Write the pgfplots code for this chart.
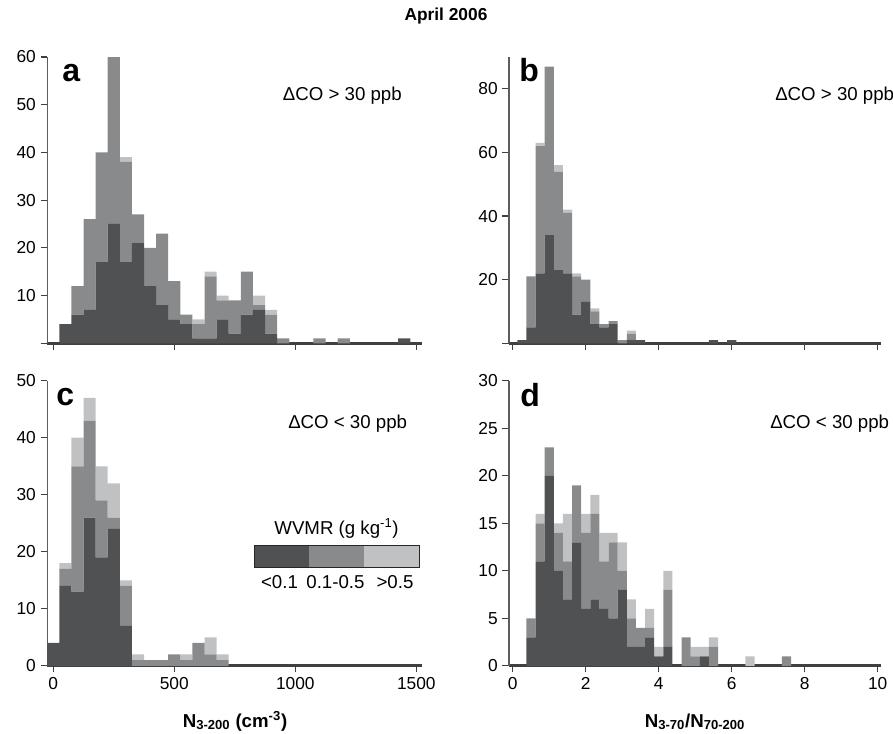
\documentclass[border=0pt]{standalone}
\usepackage{fontspec}
\setmainfont{Liberation Sans}
\usepackage{pgfplots}
\usepackage{pgfplotstable}
\pgfplotsset{compat=1.18}
\definecolor{cdark}{HTML}{505153}
\definecolor{cmid}{HTML}{898A8C}
\definecolor{clight}{HTML}{BFC1C3}
\definecolor{axgray}{HTML}{404040}

\pgfplotstableread{
x d m l
50 4 0 0
100 6 6 0
150 7 19 0
200 17 23 0
250 25 35 0
300 17 21 1
350 21 6 0
400 12 8 0
450 8 15 0
500 5 8 0
550 4 2 0
600 1 3 1
650 1 13 1
700 5 4 1
750 2 7 0
800 6 9 0
850 7 1 2
900 2 4 1
950 0 1 0
1100 0 1 0
1200 0 1 0
1450 1 0 0
}\tabA

\pgfplotstableread{
x d m l
0.25 1 0 0
0.5 5 16 0
0.75 22 40 1
1.0 34 53 0
1.25 23 31 2
1.5 22 19 1
1.75 9 12 1
2.0 13 7 0
2.25 6 4 1
2.5 5 1 0
2.75 6 1 0
3.0 0 1 0
3.25 1 2 1
3.5 1 0 0
5.5 1 0 0
6.0 1 0 0
}\tabB

\pgfplotstableread{
x d m l
0 4 0 0
50 14 3 1
100 13 22 5
150 26 17 4
200 19 10 6
250 24 2 6
300 7 7 1
350 0 1 1
400 0 1 0
450 0 1 0
500 0 2 0
550 0 1 1
600 0 4 0
650 0 2 3
700 0 1 1
}\tabC

\pgfplotstableread{
x d m l
0.5 3 2 0
0.75 11 4 1
1.0 20 3 0
1.25 10 4 1
1.5 7 4 5
1.75 13 6 0
2.0 6 8 2
2.25 7 9 2
2.5 6 5 3
2.75 5 8 1
3.0 8 2 3
3.25 2 3 2
3.5 2 2 0
3.75 3 1 2
4.0 1 0 1
4.25 2 6 2
4.75 0 3 0
5.0 0 1 1
5.25 1 0 1
5.5 0 2 1
6.5 0 0 1
7.5 0 1 0
}\tabD

\pgfplotsset{hist/.style={
  scale only axis, axis lines*=left, ymin=0,
  tick align=outside, major tick length=5pt,
  x axis line style={line width=2.2pt, color=axgray},
  y axis line style={line width=1pt, color=axgray!85},
  tick style={line width=0.9pt, color=axgray},
  ybar stacked, bar shift=0pt,
  ticklabel style={font=\fontsize{13}{15}\selectfont},
  /pgf/number format/assume math mode=true,
  /pgf/number format/1000 sep={},
  every axis plot/.append style={draw=none},
  clip=false,
}}

\begin{document}
\begin{tikzpicture}
\path[use as bounding box] (0,0) rectangle (669.75pt,549.75pt);

% panel a
\begin{axis}[hist, at={(35.4pt,292.3pt)}, anchor=south west,
  width=281.4pt, height=214.7pt, xmin=-25, xmax=1525, ymax=60,
  bar width=50, xtick={0,500,1000,1500}, xticklabels={,,,},
  ytick={0,10,...,60}, yticklabels={,10,20,30,40,50,60}]
\addplot[fill=cdark] table[x=x,y=d]{\tabA};
\addplot[fill=cmid] table[x=x,y=m]{\tabA};
\addplot[fill=clight] table[x=x,y=l]{\tabA};
\end{axis}

% panel b
\begin{axis}[hist, at={(381.8pt,292.3pt)}, anchor=south west,
  width=279.2pt, height=214.7pt, xmin=-0.1, xmax=10.1, ymax=90,
  bar width=0.25, xtick={0,2,...,10}, xticklabels={,,,,,},
  ytick={0,20,...,80}, yticklabels={,20,40,60,80}]
\addplot[fill=cdark] table[x=x,y=d]{\tabB};
\addplot[fill=cmid] table[x=x,y=m]{\tabB};
\addplot[fill=clight] table[x=x,y=l]{\tabB};
\end{axis}

% panel c
\begin{axis}[hist, at={(35.4pt,50.4pt)}, anchor=south west,
  width=281.4pt, height=213.8pt, xmin=-25, xmax=1525, ymax=50,
  bar width=50, xtick={0,500,1000,1500},
  ytick={0,10,...,50}]
\addplot[fill=cdark] table[x=x,y=d]{\tabC};
\addplot[fill=cmid] table[x=x,y=m]{\tabC};
\addplot[fill=clight] table[x=x,y=l]{\tabC};
\end{axis}

% panel d
\begin{axis}[hist, at={(381.8pt,50.4pt)}, anchor=south west,
  width=279.2pt, height=213.8pt, xmin=-0.1, xmax=10.1, ymax=30,
  bar width=0.25, xtick={0,2,...,10},
  ytick={0,5,...,30}]
\addplot[fill=cdark] table[x=x,y=d]{\tabD};
\addplot[fill=cmid] table[x=x,y=m]{\tabD};
\addplot[fill=clight] table[x=x,y=l]{\tabD};
\end{axis}

% title
\node[font=\fontsize{13}{15}\selectfont\bfseries] at (334.5pt,537.75pt) {April 2006};

% panel letters
\begin{scope}[every node/.style={inner sep=0pt, anchor=base west, font=\fontsize{24}{28}\selectfont\bfseries}]
\node at (46.5pt,488.25pt) {a};
\node at (389.25pt,488.25pt) {b};
\node at (42pt,245.25pt) {c};
\node at (390pt,244.5pt) {d};
\end{scope}

% condition texts
\begin{scope}[every node/.style={inner sep=0pt, anchor=base west, font=\fontsize{14}{16}\selectfont}]
\node at (212pt,474pt) {ΔCO > 30 ppb};
\node at (581.25pt,474pt) {ΔCO > 30 ppb};
\node at (216pt,228.75pt) {ΔCO < 30 ppb};
\node at (577.5pt,228.75pt) {ΔCO < 30 ppb};
\end{scope}

% legend
\node[inner sep=0pt, anchor=base, font=\fontsize{14}{16}\selectfont] at (252.4pt,149.25pt) {WVMR (g kg\textsuperscript{-1})};
\fill[cdark] (190.5pt,124.5pt) rectangle (231.75pt,141pt);
\fill[cmid] (231.75pt,124.5pt) rectangle (273pt,141pt);
\fill[clight] (273pt,124.5pt) rectangle (314.25pt,141pt);
\draw[black!85, line width=0.6pt] (190.5pt,124.5pt) rectangle (314.25pt,141pt);
\begin{scope}[every node/.style={inner sep=0pt, anchor=base, font=\fontsize{14}{16}\selectfont}]
\node at (209.6pt,108.75pt) {<0.1};
\node at (251.6pt,108.75pt) {0.1-0.5};
\node at (296.25pt,108.75pt) {>0.5};
\end{scope}

% x labels
\node[inner sep=0pt, anchor=base, font=\fontsize{14}{16}\selectfont\bfseries] at (176.25pt,4.5pt) {N\textsubscript{3-200} (cm\textsuperscript{-3})};
\node[inner sep=0pt, anchor=base, font=\fontsize{14}{16}\selectfont\bfseries] at (521.25pt,4.5pt) {N\textsubscript{3-70}/N\textsubscript{70-200}};
\end{tikzpicture}
\end{document}
